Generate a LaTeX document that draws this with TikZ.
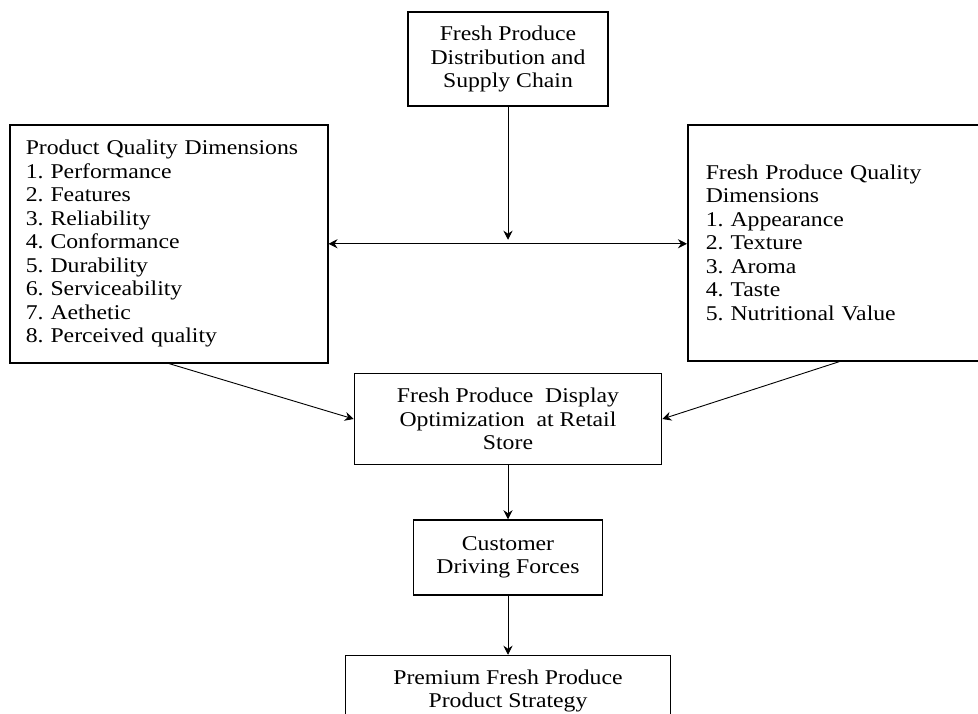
\documentclass[tikz,border=0pt]{standalone}
\usepackage{fontspec}
\setmainfont{Liberation Serif}[FakeStretch=1.13]
\usepackage{tikz}
\usetikzlibrary{arrows.meta,positioning,calc}
\frenchspacing
\tikzset{
    box/.style={draw, line width=1.5pt, align=center, inner sep=4pt,
        font=\fontsize{21}{23.5}\selectfont},
    listbox/.style={draw, line width=1.5pt, align=left, inner ysep=4pt,
        font=\fontsize{21}{23.5}\selectfont},
    flow/.style={-{Stealth[length=9pt, width=9pt, inset=3pt]}, line width=0.9pt},
    mutual/.style={{Stealth[length=9pt, width=9pt, inset=3pt]}-{Stealth[length=9pt, width=9pt, inset=3pt]}, line width=0.9pt}
}

\begin{document}
\begin{tikzpicture}[x=1pt, y=1pt]
                    \useasboundingbox (0,0) rectangle (978,-713);
                    \clip (0,0) rectangle (978,-713);
                    \node[box, minimum width=200pt, minimum height=94pt] (supply) at (508,-59)
                        {Fresh Produce\\Distribution and\\Supply Chain};
                    \node[listbox, text width=286pt, inner xsep=16pt, minimum height=238pt, anchor=north west] (pqd) at (9,-124)
                        {Product Quality Dimensions\\1. Performance\\2. Features\\3. Reliability\\4. Conformance\\5. Durability\\6. Serviceability\\7. Aethetic\\8. Perceived quality};
                    \node[listbox, text width=268pt, inner xsep=18pt, minimum height=236pt, anchor=north west] (fpqd) at (687,-124)
                        {Fresh Produce Quality\\Dimensions\\1. Appearance\\2. Texture\\3. Aroma\\4. Taste\\5. Nutritional Value};
                    \node[box, minimum width=307pt, minimum height=91pt, below=266pt of supply] (display)
                        {Fresh Produce~ Display\\Optimization~ at Retail\\Store};
                    \node[box, minimum width=189pt, minimum height=75pt, below=54pt of display] (customer)
                        {Customer\\Driving Forces};
                    \node[box, minimum width=325pt, minimum height=71pt, below=59pt of customer] (premium)
                        {Premium Fresh Produce\\Product Strategy};
                    % bottom edge of the last box lies outside the page
                    \draw[line width=1.5pt] (premium.south west) -- ++(0,-30) (premium.south east) -- ++(0,-30);
                    \coordinate (hub) at ($(supply.south |- pqd.east)+(0,4)$);
                    \draw[flow] (supply) -- (hub);
                    \draw[mutual] (pqd.east) -- (pqd.east -| fpqd.west);
                    \draw[flow] (pqd.south) -- (display.west);
                    \draw[flow] (fpqd.south) -- (display.east);
                    \draw[flow] (display) -- (customer);
                    \draw[flow] (customer) -- (premium);
                \end{tikzpicture}
\end{document}
